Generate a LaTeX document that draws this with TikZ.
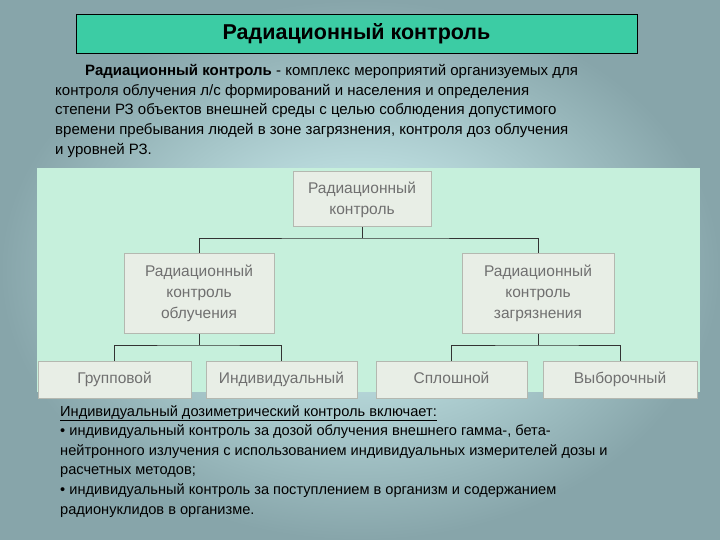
\documentclass[tikz,border=0pt]{standalone}
\usepackage{fontspec}
\setmainfont{Liberation Sans}
\begin{document}
\begin{tikzpicture}[x=1pt,y=-1pt,
  box/.style={draw=boxline,fill=boxfill,line width=1pt,text=boxtext,align=center,inner sep=0pt,font=\fontsize{15.5}{21}\selectfont},
  sbox/.style={box,text height=11pt,text depth=3pt},
  conn/.style={draw=black!80,line width=0.8pt}]
\definecolor{boxline}{HTML}{B4B8B0}
\definecolor{boxfill}{HTML}{E8EEE6}
\definecolor{boxtext}{HTML}{707070}
\definecolor{panel}{HTML}{C6F0DC}
\definecolor{titlefill}{HTML}{3CCCA4}
\useasboundingbox (0,0) rectangle (720,540);
\shade[inner color={rgb,255:red,215;green,250;blue,250},outer color={rgb,255:red,135;green,165;blue,170}] (0,0) rectangle (720,540);
\node[draw=black,fill=titlefill,line width=0.8pt,minimum width=561pt,minimum height=39pt,font=\bfseries\fontsize{21.5}{24}\selectfont] (title) at (356.5,33.5) {Радиационный контроль};
\node[anchor=north west,inner sep=0pt,align=left,font=\fontsize{15}{19.8}\selectfont] (para) at (55,64)
 {\hspace*{30pt}\textbf{Радиационный контроль} - комплекс мероприятий организуемых для\\контроля облучения л/с формирований и населения и определения\\степени РЗ объектов внешней среды с целью соблюдения допустимого\\времени пребывания людей в зоне загрязнения, контроля доз облучения\\и уровней РЗ.};
\fill[panel] (37,168) rectangle (700,392);
\node[box,minimum width=138pt,minimum height=55pt] (top) at (362,199.5) {Радиационный\\контроль};
\node[box,minimum width=150pt,minimum height=80pt] (ml) at (199,293) {Радиационный\\контроль\\облучения};
\node[box,minimum width=152pt,minimum height=80pt] (mr) at (538,293) {Радиационный\\контроль\\загрязнения};
\node[sbox,minimum width=153pt,minimum height=37pt] (b1) at (114.5,379.5) {Групповой};
\node[sbox,minimum width=151pt,minimum height=37pt] (b2) at (281.5,379.5) {Индивидуальный};
\node[sbox,minimum width=151pt,minimum height=37pt] (b3) at (451.5,379.5) {Сплошной};
\node[sbox,minimum width=154pt,minimum height=37pt] (b4) at (620,379.5) {Выборочный};
\coordinate (j1) at (362,238);
\coordinate (j2) at (199,345);
\coordinate (j3) at (538,345);
\draw[conn] (top.south) -- (j1);
\draw[conn] (ml.north) |- (j1) -| (mr.north);
\draw[conn] (ml.south) -- (j2);
\draw[conn] (b1.north) |- (j2) -| (b2.north);
\draw[conn] (mr.south) -- (j3);
\draw[conn] (b3.north) |- (j3) -| (b4.north);
\node[anchor=north west,inner sep=0pt,align=left,font=\fontsize{14.6}{19.6}\selectfont] (list) at (60,405)
 {\underline{Индивидуальный дозиметрический контроль включает:}\\
 • индивидуальный контроль за дозой облучения внешнего гамма-, бета-\\нейтронного излучения с использованием индивидуальных измерителей дозы и\\расчетных методов;\\
 • индивидуальный контроль за поступлением в организм и содержанием\\радионуклидов в организме.};
\end{tikzpicture}
\end{document}
